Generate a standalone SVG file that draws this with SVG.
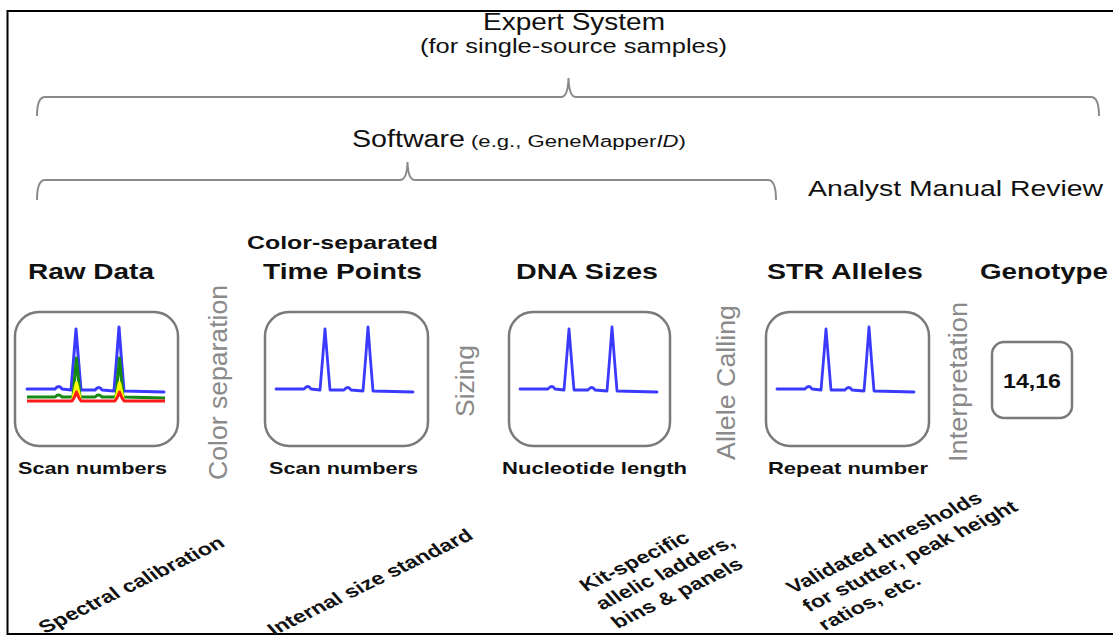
<svg xmlns="http://www.w3.org/2000/svg" width="1113" height="637" viewBox="0 0 1113 637">
<style>
.t{font-family:"Liberation Sans",Arial,sans-serif;fill:#111}
.b{font-weight:bold}
.v{font-family:"Liberation Sans",Arial,sans-serif;fill:#8a8a8a;font-size:25px}
.box{fill:#fff;stroke:#7a7a7a;stroke-width:2.5}
.brace{fill:none;stroke:#8a8a8a;stroke-width:2}
.blue{fill:none;stroke:#3a3aff;stroke-width:2.8;stroke-linejoin:round;stroke-linecap:round}
.sl{font-family:"Liberation Sans",Arial,sans-serif;font-weight:bold;font-size:17.5px;fill:#111}
</style>
<defs>
<path id="trace" d="M276,389 L304,389 Q308,384 311,389 L320,390 L322.5,360 L325,329 L327.5,360 L330,390 L344,390 Q348,385 351,390 L363,391 L365.5,360 L368,327 L370.5,360 L373,391 L413,392"/>
</defs>
<rect x="0" y="0" width="1113" height="637" fill="#fff"/>
<path d="M1113,11 H7.5 V634 H1113" fill="none" stroke="#000" stroke-width="2"/>

<g id="brackets">
<path class="brace" d="M37,116 Q37,97 45,97 H561 Q568,97 568.5,78 Q569,97 576,97 H1091 Q1099,97 1099,116"/>
<path class="brace" d="M37,200 Q37,180 45,180 H400 Q407,180 407.5,162 Q408,180 415,180 H768 Q776,180 776,200"/>
</g>

<g id="titles">
<text class="t" x="483" y="30" font-size="23" textLength="182" lengthAdjust="spacingAndGlyphs">Expert System</text>
<text class="t" x="420" y="53" font-size="20" textLength="307" lengthAdjust="spacingAndGlyphs">(for single-source samples)</text>
<text class="t" x="352" y="147" font-size="23" textLength="113" lengthAdjust="spacingAndGlyphs">Software</text>
<text class="t" transform="translate(471,147) scale(1.3,1)" font-size="17">(e.g., GeneMapper<tspan font-style="italic">ID</tspan>)</text>
<text class="t" x="808" y="196" font-size="22" textLength="295" lengthAdjust="spacingAndGlyphs">Analyst Manual Review</text>
</g>

<g id="raw-data">
<text class="t b" x="28" y="279" font-size="22" textLength="126" lengthAdjust="spacingAndGlyphs">Raw Data</text>
<rect class="box" x="15" y="312" width="163" height="134" rx="24"/>
<use href="#trace" class="blue" transform="translate(-249,0)" style="stroke-width:3"/>
<path d="M27,397 L55,397 Q59,393 62,397 L73,397 L74.5,380 L76.5,358 L78.5,380 L80,397 L95,397 Q99,393 102,397 L116,397 L117.5,380 L119.5,358 L121.5,380 L123,397 L165,398" fill="none" stroke="#148a14" stroke-width="3" stroke-linejoin="round"/>
<path d="M73,399 L75,390 L76.5,383 L78,390 L80,399 M116,399 L118,390 L119.5,383 L121,390 L123,399" fill="none" stroke="#ffff00" stroke-width="3.5" stroke-linejoin="round"/>
<path d="M27,401 L72,401 L74.5,397 L76.5,392 L78.5,397 L81,401 L115,401 L117.5,397 L119.5,392 L121.5,397 L124,401 L165,401" fill="none" stroke="#ff1a1a" stroke-width="3" stroke-linejoin="round"/>
<text class="t b" x="18" y="474" font-size="17" textLength="149" lengthAdjust="spacingAndGlyphs">Scan numbers</text>
</g>

<g id="time-points">
<text class="t b" x="247" y="249" font-size="19" textLength="191" lengthAdjust="spacingAndGlyphs">Color-separated</text>
<text class="t b" x="263" y="279" font-size="22" textLength="159" lengthAdjust="spacingAndGlyphs">Time Points</text>
<rect class="box" x="265" y="312" width="163" height="134" rx="24"/>
<use href="#trace" class="blue"/>
<text class="t b" x="269" y="474" font-size="17" textLength="149" lengthAdjust="spacingAndGlyphs">Scan numbers</text>
</g>

<g id="dna-sizes">
<text class="t b" x="516" y="279" font-size="22" textLength="142" lengthAdjust="spacingAndGlyphs">DNA Sizes</text>
<rect class="box" x="509" y="312" width="161" height="134" rx="24"/>
<use href="#trace" class="blue" transform="translate(244,0)"/>
<text class="t b" x="502" y="474" font-size="17" textLength="185" lengthAdjust="spacingAndGlyphs">Nucleotide length</text>
</g>

<g id="str-alleles">
<text class="t b" x="767" y="279" font-size="22" textLength="156" lengthAdjust="spacingAndGlyphs">STR Alleles</text>
<rect class="box" x="766" y="312" width="163" height="134" rx="24"/>
<use href="#trace" class="blue" transform="translate(501,0)"/>
<text class="t b" x="768" y="474" font-size="17" textLength="160" lengthAdjust="spacingAndGlyphs">Repeat number</text>
</g>

<g id="genotype">
<text class="t b" x="980" y="279" font-size="22" textLength="128" lengthAdjust="spacingAndGlyphs">Genotype</text>
<rect class="box" x="992" y="342" width="80" height="76" rx="12"/>
<text class="t b" x="1032" y="388" font-size="21" text-anchor="middle" textLength="58" lengthAdjust="spacingAndGlyphs">14,16</text>
</g>

<g id="steps">
<text class="v" transform="translate(227,480) rotate(-90)" textLength="195" lengthAdjust="spacingAndGlyphs">Color separation</text>
<text class="v" transform="translate(474,417) rotate(-90)" textLength="72" lengthAdjust="spacingAndGlyphs">Sizing</text>
<text class="v" transform="translate(735,460) rotate(-90)" textLength="155" lengthAdjust="spacingAndGlyphs">Allele Calling</text>
<text class="v" transform="translate(967,462) rotate(-90)" textLength="160" lengthAdjust="spacingAndGlyphs">Interpretation</text>
</g>

<g id="inputs">
<text class="sl" transform="translate(45,634) scale(1.33,1) rotate(-33)">Spectral calibration</text>
<text class="sl" transform="translate(274,636) scale(1.33,1) rotate(-33)">Internal size standard</text>
<g transform="translate(586,592) scale(1.33,1) rotate(-33)">
<text class="sl" x="0" y="0">Kit-specific</text>
<text class="sl" x="0" y="22">allelic ladders,</text>
<text class="sl" x="0" y="44">bins &amp; panels</text>
</g>
<g transform="translate(793,594) scale(1.33,1) rotate(-33)">
<text class="sl" x="0" y="0">Validated thresholds</text>
<text class="sl" x="0" y="22">for stutter, peak height</text>
<text class="sl" x="0" y="44">ratios, etc.</text>
</g>
</g>
</svg>
